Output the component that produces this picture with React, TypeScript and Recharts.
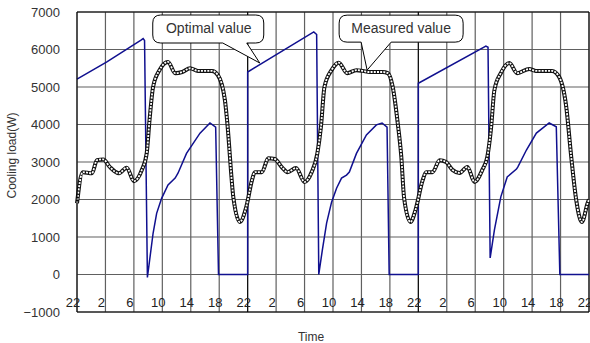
import React from 'react';
import { LineChart, Line, XAxis, YAxis, CartesianGrid, ReferenceLine, ReferenceDot } from 'recharts';

const optimalHours = [0, 4.2, 9.0, 9.3, 9.5, 9.9, 10.7, 11.2, 11.9, 12.8, 13.8, 14.2, 15.4, 17.3, 18.7, 19.5, 19.9, 24, 24, 33.3, 33.7, 34.0, 34.5, 35.1, 35.8, 36.5, 37.2, 37.9, 38.3, 39.3, 40.7, 42.1, 42.9, 43.6, 43.9, 48, 48, 57.5, 57.8, 58.1, 58.7, 59.6, 60.5, 61.8, 62.0, 63.2, 64.6, 66.4, 67.4, 67.9, 72];
const optimalLoad = [5210, 5670, 6250, 6290, 6240, -80, 1100, 1630, 2030, 2390, 2570, 2700, 3230, 3770, 4040, 3930, 0, 0, 5400, 6470, 6400, 0, 650, 1370, 1930, 2300, 2570, 2650, 2730, 3230, 3720, 3990, 4040, 3930, 0, 0, 5100, 6090, 6060, 440, 1190, 2070, 2600, 2810, 2870, 3320, 3770, 4040, 3940, 0, 0];

const measuredHours = [0, 0.8, 2.1, 2.8, 3.7, 4.6, 5.9, 7.0, 8.0, 9.1, 9.8, 10.2, 10.7, 11.6, 12.8, 13.8, 14.8, 15.9, 17.0, 19.0, 19.8, 20.8, 21.1, 22.0, 22.9, 23.8, 24.6, 25.0, 26.0, 26.9, 27.8, 28.9, 29.6, 30.8, 32.0, 33.0, 33.8, 34.3, 34.8, 35.8, 36.8, 38.0, 39.3, 40.2, 41.1, 43.0, 43.7, 44.4, 45.1, 45.6, 46.0, 46.9, 47.6, 48.6, 49.1, 50.0, 51.0, 51.9, 52.8, 53.8, 54.9, 55.9, 57.0, 57.7, 58.2, 58.7, 59.6, 60.8, 61.9, 63.6, 64.5, 66.8, 67.8, 68.8, 69.5, 70.2, 71.0, 71.8, 72];
const measuredLoad = [1900, 2730, 2700, 3050, 3070, 2870, 2700, 2850, 2490, 2780, 3230, 4120, 5000, 5450, 5670, 5370, 5400, 5500, 5430, 5430, 5320, 4650, 4120, 2040, 1400, 1800, 2510, 2730, 2730, 3100, 3080, 2840, 2730, 2840, 2470, 2730, 3230, 3930, 5000, 5450, 5650, 5370, 5450, 5430, 5400, 5400, 5370, 5000, 4040, 3150, 2040, 1400, 1720, 2510, 2730, 2730, 3050, 3000, 2790, 2710, 2870, 2470, 2790, 3140, 3850, 4920, 5370, 5640, 5370, 5480, 5430, 5430, 5270, 4470, 3140, 1990, 1400, 1900, 2000];

const xTicks = [0, 4, 8, 12, 16, 20, 24, 28, 32, 36, 40, 44, 48, 52, 56, 60, 64, 68, 72];
const xTickLabels = ['22', '2', '6', '10', '14', '18', '22', '2', '6', '10', '14', '18', '22', '2', '6', '10', '14', '18', '22'];
const yTicks = [-1000, 0, 1000, 2000, 3000, 4000, 5000, 6000, 7000];

const optimalData = optimalHours.map((h, i) => ({ h, v: optimalLoad[i] }));
const measuredData = measuredHours.map((h, i) => ({ h, v: measuredLoad[i] }));

const FONT = '"Liberation Sans", Arial, sans-serif';

const XTick = (props: any) => {
  const { x, y, payload } = props;
  const idx = xTicks.indexOf(payload.value);
  return (
    <text x={x - 4} y={y - 5} textAnchor="middle" fontSize={13} fill="#222" fontFamily={FONT}>
      {xTickLabels[idx]}
    </text>
  );
};

const fmtY = (v: number) => (v < 0 ? '\u2212' + Math.abs(v) : String(v));

function calloutShape(box: { l: number; r: number; t: number; b: number; tl: number; tr: number; tx: number; ty: number }, label: string) {
  return (props: any) => {
    const { cx, cy } = props;
    const L = cx + box.l, R = cx + box.r, T = cy + box.t, B = cy + box.b;
    const rr = 8;
    const d = [
      `M ${L + rr} ${T}`,
      `L ${R - rr} ${T}`,
      `Q ${R} ${T} ${R} ${T + rr}`,
      `L ${R} ${B - rr}`,
      `Q ${R} ${B} ${R - rr} ${B}`,
      `L ${cx + box.tr} ${B}`,
      `L ${cx} ${cy}`,
      `L ${cx + box.tl} ${B}`,
      `L ${L + rr} ${B}`,
      `Q ${L} ${B} ${L} ${B - rr}`,
      `L ${L} ${T + rr}`,
      `Q ${L} ${T} ${L + rr} ${T}`,
      'Z',
    ].join(' ');
    return (
      <g>
        <path d={d} fill="#fff" stroke="#000" strokeWidth={1} />
        <text x={cx + box.tx} y={cy + box.ty} textAnchor="middle" fontSize={14} fill="#333" fontFamily={FONT}>
          {label}
        </text>
      </g>
    );
  };
}

const optimalCallout = calloutShape({ l: -107, r: 4, t: -48, b: -20, tl: -37, tr: -13, tx: -51, ty: -30 }, 'Optimal value');
const measuredCallout = calloutShape({ l: -28, r: 96, t: -55, b: -28, tl: -6, tr: 24, tx: 34, ty: -37 }, 'Measured value');

export default function App() {
  return (
    <div style={{ position: 'fixed', left: 0, top: 0, width: 590, height: 343, background: '#fff' }}>
      <LineChart width={590} height={343} margin={{ top: 12, right: 1, bottom: 0, left: 0 }} style={{ fontFamily: FONT }}>
        <CartesianGrid stroke="#606060" strokeWidth={1.2} />
        <XAxis
          dataKey="h"
          type="number"
          domain={[0, 72]}
          ticks={xTicks}
          interval={0}
          height={31}
          stroke="#000"
          tickLine={false}
          tickSize={0}
          tickMargin={0}
          tick={<XTick />}
          allowDuplicatedCategory={false}
          label={(p: any) => {
            const vb = p.viewBox;
            return (
              <text x={vb.x + vb.width / 2 - 22} y={vb.y + 29} textAnchor="middle" fontSize={12} fill="#333" fontFamily={FONT}>
                Time
              </text>
            );
          }}
        />
        <YAxis
          type="number"
          domain={[-1000, 7000]}
          ticks={yTicks}
          interval={0}
          width={77}
          stroke="#000"
          tickLine={false}
          tickSize={0}
          tickMargin={17}
          tickFormatter={fmtY}
          tick={{ fontSize: 13, fill: '#333', fontFamily: FONT }}
          label={(p: any) => {
            const vb = p.viewBox;
            const yc = vb.y + vb.height / 2 - 6.5;
            return (
              <text x={16} y={yc} transform={`rotate(-90, 16, ${yc})`} textAnchor="middle" fontSize={12} fill="#333" fontFamily={FONT}>
                Cooling load(W)
              </text>
            );
          }}
        />
        <ReferenceLine x={24} stroke="#000" strokeWidth={1} />
        <ReferenceLine x={48} stroke="#000" strokeWidth={1} />
        <ReferenceLine x={72} stroke="#000" strokeWidth={1} />
        <ReferenceLine y={7000} stroke="#000" strokeWidth={1} />
        <Line data={optimalData} dataKey="v" type="linear" stroke="#10108f" strokeWidth={1.5} dot={false} isAnimationActive={false} />
        <Line data={measuredData} dataKey="v" type="monotone" stroke="#111" strokeWidth={4} dot={false} isAnimationActive={false} />
        <Line data={measuredData} dataKey="v" type="monotone" stroke="#fff" strokeWidth={1.8} strokeDasharray="2 1.2" dot={false} isAnimationActive={false} />
        <ReferenceDot x={25.7} y={5640} r={0} ifOverflow="visible" shape={optimalCallout} />
        <ReferenceDot x={40.8} y={5450} r={0} ifOverflow="visible" shape={measuredCallout} />
      </LineChart>
    </div>
  );
}
